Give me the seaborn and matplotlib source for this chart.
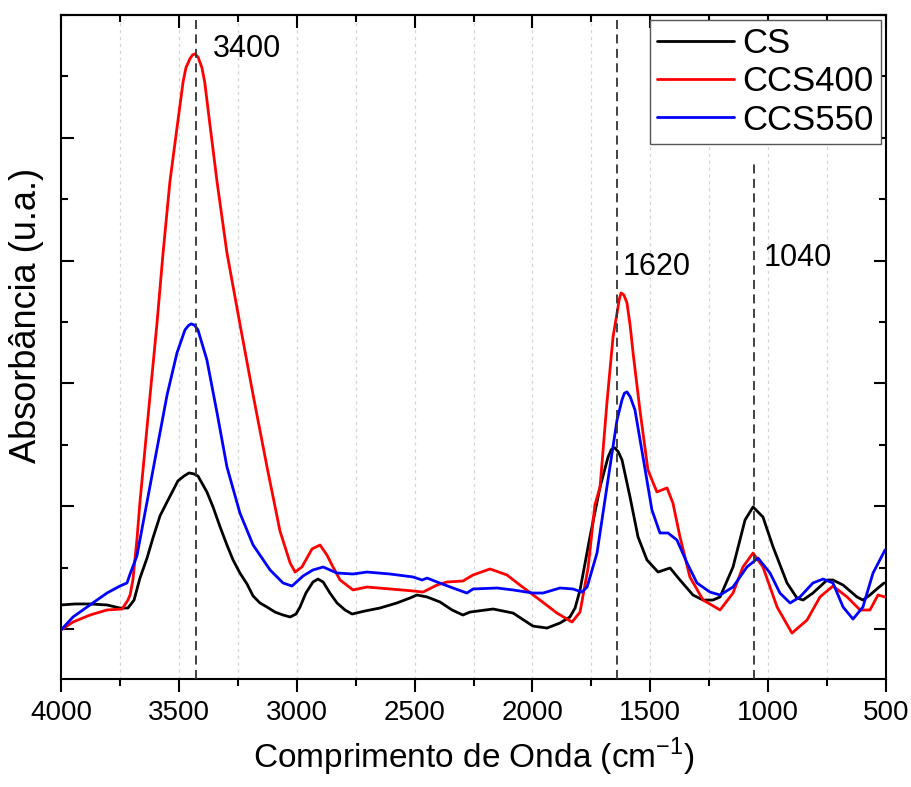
import numpy as np
import pandas as pd
import matplotlib
matplotlib.use("Agg")
import matplotlib.pyplot as plt
import seaborn as sns
from matplotlib.ticker import MultipleLocator

# ---------------- data ----------------
cs_wn = [4000, 3941, 3877, 3805, 3750, 3716, 3690, 3665, 3635, 3610, 3580, 3550, 3504,
         3478, 3457, 3436, 3419, 3381, 3355, 3325, 3296, 3270, 3241, 3211, 3185, 3156,
         3126, 3092, 3058, 3028, 3003, 2986, 2961, 2931, 2910, 2888, 2859, 2829, 2795,
         2765, 2710, 2647, 2575, 2519, 2490, 2447, 2392, 2341, 2295, 2265, 2167, 2082,
         1998, 1938, 1883, 1841, 1819, 1798, 1756, 1713, 1679, 1665, 1650, 1635, 1620,
         1586, 1552, 1514, 1467, 1416, 1374, 1319, 1276, 1234, 1204, 1149, 1098, 1064,
         1022, 979, 920, 878, 852, 810, 750, 725, 682, 623, 598, 568, 534, 508]
cs_abs = [0.196, 0.204, 0.204, 0.196, 0.171, 0.171, 0.236, 0.415, 0.578, 0.741, 0.921,
          1.035, 1.206, 1.246, 1.271, 1.263, 1.246, 1.116, 0.994, 0.831, 0.684, 0.562,
          0.456, 0.367, 0.269, 0.212, 0.179, 0.138, 0.114, 0.098, 0.122, 0.179, 0.293,
          0.383, 0.407, 0.383, 0.293, 0.212, 0.155, 0.122, 0.147, 0.171, 0.212, 0.253,
          0.277, 0.261, 0.220, 0.155, 0.114, 0.138, 0.163, 0.130, 0.024, 0.008, 0.049,
          0.098, 0.171, 0.318, 0.750, 1.157, 1.401, 1.462, 1.475, 1.440, 1.377, 1.075,
          0.750, 0.562, 0.464, 0.497, 0.399, 0.277, 0.236, 0.236, 0.261, 0.505, 0.888,
          0.994, 0.912, 0.668, 0.375, 0.253, 0.236, 0.293, 0.399, 0.399, 0.358, 0.261,
          0.236, 0.277, 0.334, 0.375]

ccs400_wn = [4000, 3949, 3877, 3805, 3741, 3716, 3707, 3695, 3678, 3665, 3622, 3593,
             3567, 3538, 3508, 3482, 3470, 3453, 3442, 3431, 3418, 3402, 3390, 3376,
             3338, 3296, 3241, 3185, 3126, 3071, 3028, 3007, 2978, 2935, 2901, 2872,
             2846, 2816, 2761, 2702, 2604, 2507, 2464, 2405, 2362, 2295, 2252, 2180,
             2108, 2053, 1968, 1896, 1832, 1798, 1764, 1735, 1713, 1684, 1658, 1641,
             1632, 1624, 1612, 1599, 1586, 1573, 1544, 1510, 1472, 1429, 1404, 1374,
             1332, 1276, 1204, 1149, 1107, 1064, 1022, 962, 899, 835, 780, 725, 665,
             610, 568, 534, 504]
ccs400_abs = [-0.008, 0.057, 0.114, 0.155, 0.163, 0.236, 0.277, 0.399, 0.725, 1.035,
              1.906, 2.485, 3.063, 3.642, 4.081, 4.456, 4.570, 4.644, 4.675, 4.684,
              4.655, 4.570, 4.450, 4.228, 3.642, 3.063, 2.485, 1.906, 1.320, 0.798,
              0.538, 0.464, 0.505, 0.652, 0.684, 0.603, 0.505, 0.399, 0.318, 0.342,
              0.326, 0.310, 0.301, 0.358, 0.383, 0.391, 0.440, 0.489, 0.440, 0.358,
              0.236, 0.130, 0.057, 0.138, 0.497, 1.010, 1.157, 1.841, 2.379, 2.574,
              2.680, 2.737, 2.720, 2.656, 2.480, 2.248, 1.784, 1.295, 1.116, 1.149,
              1.026, 0.750, 0.424, 0.236, 0.155, 0.293, 0.505, 0.619, 0.505, 0.179,
              -0.033, 0.073, 0.261, 0.350, 0.261, 0.155, 0.155, 0.277, 0.261]

ccs550_wn = [4000, 3949, 3877, 3805, 3750, 3720, 3707, 3678, 3635, 3593, 3550, 3508,
             3474, 3460, 3448, 3434, 3419, 3381, 3338, 3296, 3241, 3185, 3113, 3058,
             3020, 2973, 2931, 2888, 2829, 2761, 2702, 2604, 2507, 2468, 2447, 2405,
             2337, 2278, 2252, 2150, 2082, 1998, 1955, 1883, 1828, 1790, 1768, 1726,
             1684, 1641, 1620, 1610, 1599, 1585, 1565, 1531, 1493, 1459, 1425, 1387,
             1344, 1302, 1247, 1204, 1149, 1090, 1043, 992, 950, 907, 865, 810, 767,
             725, 682, 640, 598, 555, 504]
ccs550_abs = [-0.008, 0.098, 0.196, 0.293, 0.350, 0.375, 0.448, 0.595, 1.035, 1.466,
              1.906, 2.248, 2.436, 2.470, 2.485, 2.475, 2.436, 2.191, 1.760, 1.320,
              0.945, 0.684, 0.481, 0.375, 0.350, 0.432, 0.481, 0.505, 0.456, 0.448,
              0.464, 0.448, 0.424, 0.399, 0.415, 0.383, 0.334, 0.293, 0.326, 0.334,
              0.318, 0.293, 0.293, 0.334, 0.326, 0.301, 0.342, 0.619, 1.157, 1.703,
              1.866, 1.920, 1.931, 1.890, 1.784, 1.401, 0.969, 0.782, 0.782, 0.725,
              0.538, 0.375, 0.301, 0.277, 0.342, 0.505, 0.578, 0.456, 0.293, 0.212,
              0.261, 0.375, 0.407, 0.375, 0.179, 0.081, 0.179, 0.456, 0.644]

series_names = ["CS", "CCS400", "CCS550"]
series_colors = ["#000000", "#ff0000", "#0000ff"]
x_tick_values = [4000, 3500, 3000, 2500, 2000, 1500, 1000, 500]
x_tick_labels = ["4000", "3500", "3000", "2500", "2000", "1500", "1000", "500"]
peak_positions = [3427, 1641, 1061]
peak_labels = ["3400", "1620", "1040"]
x_label = r"Comprimento de Onda (cm$^{\mathregular{-1}}$)"
y_label = "Absorbância (u.a.)"

frames = []
for name, wn, ab in zip(series_names,
                        [cs_wn, ccs400_wn, ccs550_wn],
                        [cs_abs, ccs400_abs, ccs550_abs]):
    frames.append(pd.DataFrame({"wn": wn, "abs": ab, "amostra": name}))
df = pd.concat(frames, ignore_index=True)

# ---------------- style ----------------
sns.set_theme(style="ticks")
plt.rcParams["font.family"] = ["Liberation Sans", "DejaVu Sans"]
plt.rcParams["mathtext.fontset"] = "custom"
plt.rcParams["mathtext.rm"] = "Liberation Sans"
plt.rcParams["axes.linewidth"] = 1.5
for key in ["text.color", "axes.labelcolor", "xtick.color", "ytick.color",
            "axes.edgecolor"]:
    plt.rcParams[key] = "black"

fig = plt.figure(figsize=(9.12, 7.87), dpi=100)
ax = fig.add_axes([61 / 912, 1 - 679 / 787, 825 / 912, 664 / 787])

ax.set_xlim(4000, 500)
ax.set_ylim(-0.407, 5.0)
for gx in np.arange(3750, 500, -250):
    ax.axvline(gx, color="#d4d4d4", lw=0.9, ls=(0, (2.5, 3)), zorder=0)

for name, col in zip(series_names, series_colors):
    sns.lineplot(data=df[df["amostra"] == name], x="wn", y="abs", color=col,
                 lw=2.0, label=name, ax=ax, sort=False, estimator=None, zorder=3)

# dashed peak markers
ax.axvline(peak_positions[0], color="#333333", lw=1.3, ls=(0, (5, 3)), zorder=4)
ax.axvline(peak_positions[1], color="#333333", lw=1.3, ls=(0, (5, 3)), zorder=4)
ax.axvline(peak_positions[2], ymin=0, ymax=0.782, color="#333333", lw=1.3,
           ls=(0, (5, 3)), zorder=4)

ax.text(3355, 4.725, peak_labels[0], fontsize=22, ha="left", va="center")
ax.text(1616, 2.95, peak_labels[1], fontsize=22, ha="left", va="center")
ax.text(1018, 3.02, peak_labels[2], fontsize=22, ha="left", va="center")

# ticks
ax.set_xticks(x_tick_values)
ax.set_xticklabels(x_tick_labels)
ax.xaxis.set_minor_locator(MultipleLocator(250))
ax.set_yticks([0, 1, 2, 3, 4])
ax.yaxis.set_minor_locator(MultipleLocator(0.5))
ax.tick_params(axis="x", which="both", direction="out", bottom=True, top=False,
               labelsize=20, width=1.5, pad=6)
ax.tick_params(axis="x", which="major", length=9)
ax.tick_params(axis="x", which="minor", length=5)
ax.tick_params(axis="y", which="both", direction="in", left=True, right=True,
               labelleft=False, width=1.5)
ax.tick_params(axis="y", which="major", length=9)
ax.tick_params(axis="y", which="minor", length=5)

top = ax.secondary_xaxis("top")
top.set_xticks(x_tick_values)
top.xaxis.set_minor_locator(MultipleLocator(250))
top.tick_params(axis="x", which="both", direction="in", labeltop=False, width=1.5)
top.tick_params(axis="x", which="major", length=9)
top.tick_params(axis="x", which="minor", length=5)
top.spines["top"].set_linewidth(1.5)

for s in ax.spines.values():
    s.set_linewidth(1.5)
    s.set_color("black")

ax.set_xlabel(x_label, fontsize=24, labelpad=7)
ax.set_ylabel(y_label, fontsize=26)
ax.yaxis.set_label_coords(-0.021, 0.548)

leg = ax.legend(loc="upper right", fontsize=25, frameon=True, fancybox=False,
                edgecolor="#555555", framealpha=1, handlelength=2.2,
                handletextpad=0.25, labelspacing=0.15, borderpad=0.2,
                borderaxespad=0.15)
leg.get_frame().set_linewidth(1.0)
for line in leg.get_lines():
    line.set_linewidth(2.0)

fig.savefig("out.png", dpi=100)
